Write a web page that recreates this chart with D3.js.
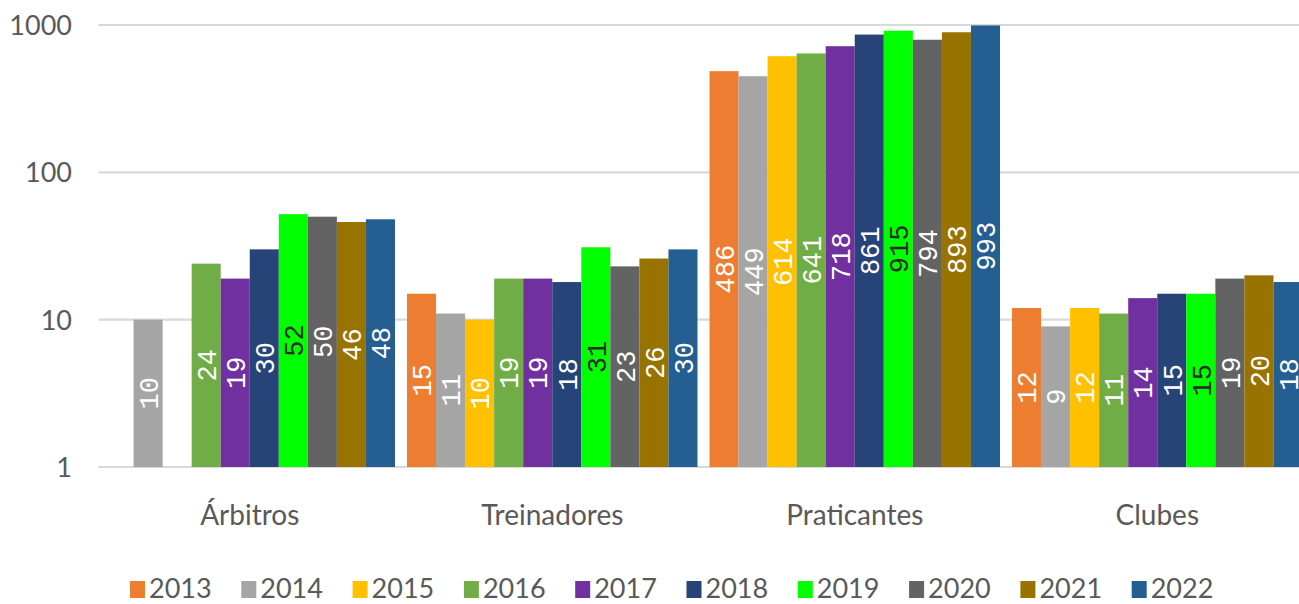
<!DOCTYPE html>
<html>
<head>
<meta charset="utf-8">
<script src="https://cdn.jsdelivr.net/npm/d3@7"></script>
<style>
  html, body { margin: 0; padding: 0; background: #ffffff; overflow: hidden; }
  svg { display: block; }
</style>
</head>
<body>
<svg id="chart" width="1299" height="604"></svg>
<script>
const categories = ["Árbitros", "Treinadores", "Praticantes", "Clubes"];
const years = ["2013", "2014", "2015", "2016", "2017", "2018", "2019", "2020", "2021", "2022"];
const colors = ["#ED7D31", "#A5A5A5", "#FFC000", "#70AD47", "#7030A0", "#264478", "#00FF00", "#636363", "#997300", "#255E91"];
const arbitros    = [null, 10, null, 24, 19, 30, 52, 50, 46, 48];
const treinadores = [15, 11, 10, 19, 19, 18, 31, 23, 26, 30];
const praticantes = [486, 449, 614, 641, 718, 861, 915, 794, 893, 993];
const clubes      = [12, 9, 12, 11, 14, 15, 15, 19, 20, 18];
const yTicks = [1, 10, 100, 1000];

const seriesByCategory = [arbitros, treinadores, praticantes, clubes];

const svg = d3.select("#chart");

const x0 = d3.scaleBand().domain(categories).range([98.5, 1308.5]).padding(0);
const x1 = d3.scaleBand().domain(years).range([6, x0.bandwidth() - 6]).padding(0);
const y = d3.scaleLog().domain([1, 1000]).range([467, 25]);
const color = d3.scaleOrdinal().domain(years).range(colors);

const FONT = "Lato, 'Open Sans', 'Liberation Sans', sans-serif";
const textGrey = "#595959";

// gridlines
svg.append("g").selectAll("line").data(yTicks).join("line")
  .attr("x1", 98.5).attr("x2", 1308.5)
  .attr("y1", d => y(d)).attr("y2", d => y(d))
  .attr("stroke", "#d9d9d9").attr("stroke-width", 2.2);

// y axis labels
const yAxis = d3.axisLeft(y).tickValues(yTicks).tickFormat(d3.format("d")).tickSize(0).tickPadding(0);
const gy = svg.append("g").attr("transform", "translate(72,0)").call(yAxis);
gy.select(".domain").remove();
gy.selectAll("text")
  .attr("font-family", FONT).attr("font-size", 27).attr("fill", textGrey)
  .attr("dy", "0.35em");

// bars
const rows = [];
categories.forEach((c, ci) => {
  years.forEach((yr, yi) => {
    const v = seriesByCategory[ci][yi];
    if (v != null) rows.push({ cat: c, year: yr, value: v });
  });
});

const groups = svg.append("g");
groups.selectAll("rect").data(rows).join("rect")
  .attr("x", d => x0(d.cat) + x1(d.year))
  .attr("width", x1.bandwidth())
  .attr("y", d => y(d.value))
  .attr("height", d => y(1) - y(d.value))
  .attr("fill", d => color(d.year));

// value labels
groups.selectAll("text").data(rows).join("text")
  .attr("transform", d => {
    const cx = x0(d.cat) + x1(d.year) + x1.bandwidth() / 2;
    const cy = (y(d.value) + y(1)) / 2;
    return `translate(${cx},${cy}) rotate(-90)`;
  })
  .attr("text-anchor", "middle")
  .attr("dy", "0.36em")
  .attr("font-family", "'Liberation Mono', 'DejaVu Sans Mono', monospace")
  .attr("font-size", 27)
  .attr("fill", d => d.year === "2019" ? "#2a2a2a" : "#ffffff")
  .text(d => d.value);

// category labels
const xAxis = d3.axisBottom(x0).tickSize(0).tickPadding(0);
const gx = svg.append("g").attr("transform", "translate(0,525)").call(xAxis);
gx.select(".domain").remove();
gx.selectAll("text")
  .attr("font-family", FONT).attr("font-size", 28).attr("fill", textGrey)
  .attr("dy", "0");

// legend
const legend = svg.append("g");
const lx = d3.scaleBand().domain(years).range([130, 130 + 111.3 * 10]);
const items = legend.selectAll("g").data(years).join("g")
  .attr("transform", d => `translate(${lx(d)},0)`);
items.append("rect").attr("x", 0).attr("y", 581).attr("width", 15).attr("height", 17)
  .attr("fill", d => color(d));
items.append("text").attr("x", 19).attr("y", 598)
  .attr("font-family", FONT).attr("font-size", 27).attr("fill", textGrey)
  .text(d => d);
</script>
</body>
</html>
